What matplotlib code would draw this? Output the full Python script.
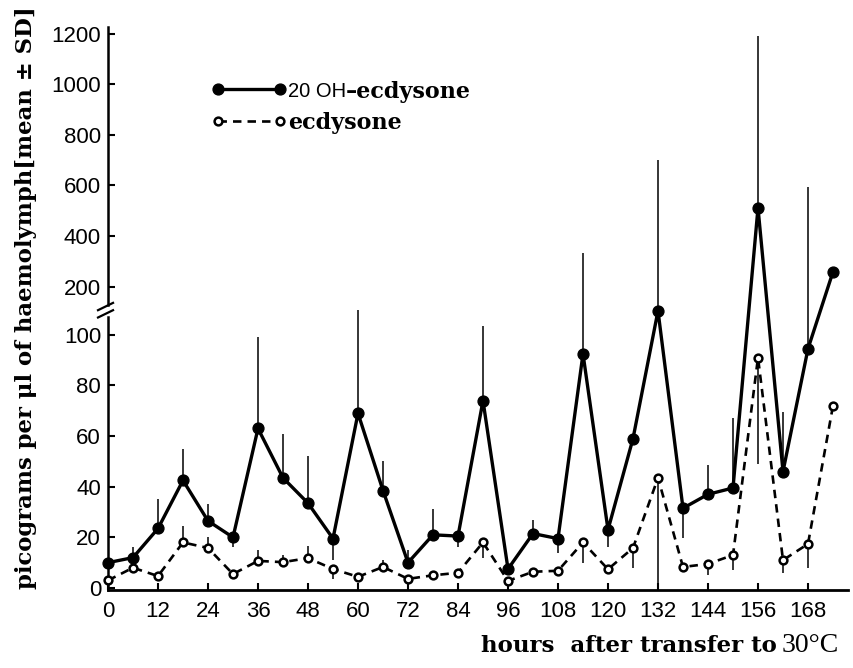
import numpy as np
import matplotlib
matplotlib.use("Agg")
import matplotlib.pyplot as plt
from matplotlib.font_manager import FontProperties

# ---- data ----
hours = list(range(0, 175, 6))
oh20 = [10, 12, 23.5, 42.5, 26.5, 20, 63, 43.5, 33.5, 19.5, 69, 38.5, 10, 21, 20.5,
        74, 7.5, 21.5, 19.5, 92.5, 23, 59, 109.5, 31.5, 37, 39.5, 512, 46, 94.5, 259]
oh20_sd_up = [0, 4, 11.5, 12.5, 6.5, 0, 36, 17.5, 18.5, 0, 41, 11.5, 5, 10, 0,
              29.5, 0, 5.5, 0, 242, 0, 0, 590, 0, 11.6, 27.5, 678, 23.6, 500, 0]
oh20_sd_dn = [0, 0, 0, 0, 0, 4, 0, 0, 0, 8.5, 0, 0, 0, 0, 4.5,
              0, 0, 0, 5.5, 0, 7, 0, 0, 11.6, 0, 0, 0, 0, 0, 0]
ecd = [3, 8, 4.7, 18, 15.8, 5.5, 10.7, 10.2, 11.8, 7.5, 4.4, 8.3, 3.6, 5, 6,
       18, 2.8, 6.4, 6.8, 18, 7.4, 15.8, 43.5, 8.3, 9.5, 13, 91, 11, 17.4, 72]
ecd_sd_up = [0, 0, 0, 6.5, 4.2, 0, 4.3, 2.8, 4.8, 0, 0, 2.7, 0, 0, 0,
             0, 0, 0, 0, 0, 0, 0, 0, 0, 0, 0, 0, 0, 0, 0]
ecd_sd_dn = [0, 0, 0, 0, 0, 0, 0, 0, 0, 4, 0, 0, 0, 0, 0,
             6, 0, 0, 0, 8, 0, 7.8, 43.5, 0, 4.5, 6, 42, 5, 9.4, 0]
xticks = list(range(0, 169, 12))
yticks = [0, 20, 40, 60, 80, 100, 200, 400, 600, 800, 1000, 1200]

BREAK = 110.0
K = 0.1


def fwd(v):
    v = np.asarray(v, dtype=float)
    return np.where(v <= BREAK, v, BREAK + (v - BREAK) * K)


def inv(f):
    f = np.asarray(f, dtype=float)
    return np.where(f <= BREAK, f, BREAK + (f - BREAK) / K)


fig = plt.figure(figsize=(8.54, 6.68), dpi=100)
ax = fig.add_axes([108 / 854, 78 / 668, 740 / 854, 563 / 668])
ax.set_yscale('function', functions=(fwd, inv))
ax.set_xlim(0, 177.6)
ax.set_ylim(-0.8, 1226)

h = np.array(hours, dtype=float)


def errbars(mean, up, dn):
    mean = np.array(mean, float)
    up = np.array(up, float)
    dn = np.array(dn, float)
    m = up > 0
    ax.vlines(h[m], mean[m], mean[m] + up[m], colors='k', lw=1.1, zorder=2)
    m = dn > 0
    ax.vlines(h[m], mean[m] - dn[m], mean[m], colors='k', lw=1.1, zorder=2)


errbars(oh20, oh20_sd_up, oh20_sd_dn)
errbars(ecd, ecd_sd_up, ecd_sd_dn)

ax.plot(hours, oh20, color='k', lw=2.4, marker='o', ms=7.8, mfc='k', mec='k',
        zorder=4, clip_on=False, label="20 OH")
ax.plot(hours, ecd, color='k', lw=1.9, ls=(0, (3.2, 2.3)), marker='o', ms=5.6,
        mfc='white', mec='k', mew=1.8, zorder=3, clip_on=False,
        label="ecdysone")

# axes styling
for s in ['top', 'right', 'left']:
    ax.spines[s].set_visible(False)
ax.spines['bottom'].set_linewidth(2.0)
ax.plot([0, 0], [0, 0.485], transform=ax.transAxes, color='k', lw=1.8, clip_on=False)
ax.plot([0, 0], [0.506, 1.0], transform=ax.transAxes, color='k', lw=1.8, clip_on=False)
ax.plot([-0.0135, 0.0068], [0.497, 0.510], transform=ax.transAxes, color='k', lw=1.6, clip_on=False)
ax.plot([-0.0135, 0.0068], [0.484, 0.497], transform=ax.transAxes, color='k', lw=1.6, clip_on=False)

ax.set_xticks(xticks)
ax.set_xticklabels([str(t) for t in xticks])
ax.set_yticks(yticks)
ax.set_yticklabels([str(t) for t in yticks])
ax.yaxis.set_minor_locator(matplotlib.ticker.NullLocator())
ax.tick_params(axis='both', direction='in', length=5, width=1.5, labelsize=16, colors='k')
ax.tick_params(axis='x', pad=8)
ax.tick_params(axis='y', pad=5)
for lab in ax.get_xticklabels() + ax.get_yticklabels():
    lab.set_fontfamily('Liberation Sans')

ax.set_ylabel("picograms per μl of haemolymph[mean ± SD]", fontsize=16.4,
              fontfamily='DejaVu Serif', fontweight='bold')
ax.yaxis.set_label_coords(-0.096, 0.5195)

fig.text(777 / 854, 1 - 652 / 668, "hours  after transfer to",
         ha='right', va='baseline', fontsize=16.5, fontfamily='DejaVu Serif',
         fontweight='bold')
fig.text(782 / 854, 1 - 652 / 668, "30°C",
         ha='left', va='baseline', fontsize=20, fontfamily='Liberation Serif')

serif_bold = FontProperties(family='DejaVu Serif', weight='bold', size=16)
leg = ax.legend(loc='upper left', bbox_to_anchor=(0.1392, 0.904), frameon=False,
                numpoints=2, handlelength=3.4, handletextpad=0.05, labelspacing=0.5,
                borderpad=0, borderaxespad=0,
                prop={'family': 'Liberation Sans', 'size': 16})
t0, t1 = leg.get_texts()
t0.set_fontsize(14.5)
t1.set_fontproperties(serif_bold)
ann = ax.annotate("–ecdysone", xy=(1, 0), xycoords=t0, xytext=(0, -1.5),
                  textcoords='offset points', ha='left', va='bottom',
                  fontproperties=serif_bold, zorder=10, annotation_clip=False)

fig.canvas.draw()
fig.savefig("out.png", dpi=100)
